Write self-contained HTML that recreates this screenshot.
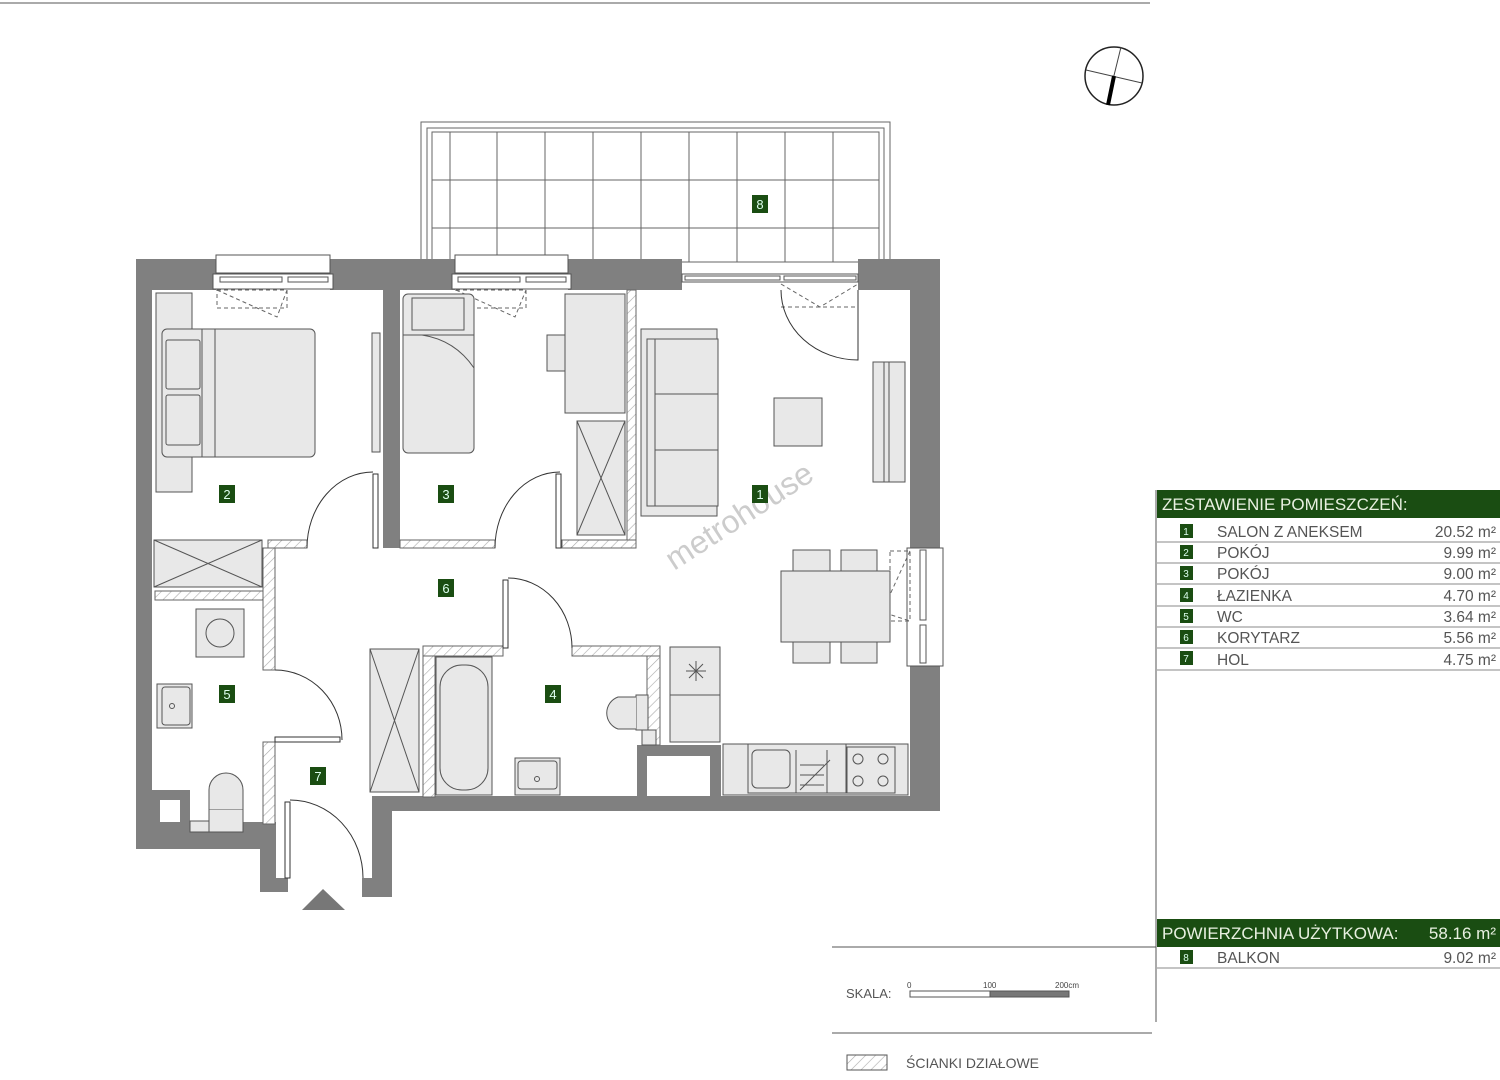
<!DOCTYPE html>
<html><head><meta charset="utf-8"><style>
body{margin:0;background:#fff;width:1500px;height:1080px;overflow:hidden;font-family:"Liberation Sans",sans-serif}
svg{position:absolute;left:0;top:0}
</style></head><body>
<svg width="1500" height="1080" viewBox="0 0 1500 1080" xmlns="http://www.w3.org/2000/svg" font-family="Liberation Sans, sans-serif">
<defs>
<pattern id="h" width="7" height="7" patternUnits="userSpaceOnUse" patternTransform="rotate(45)">
<rect width="7" height="7" fill="#fff"/><line x1="0" y1="0" x2="0" y2="7" stroke="#aaa" stroke-width="1.2"/></pattern>
</defs>
<line x1="0" y1="3" x2="1150" y2="3" stroke="#555" stroke-width="1"/>
<circle cx="1114" cy="76" r="29" fill="none" stroke="#222" stroke-width="1.5"/>
<line x1="1086" y1="70" x2="1142" y2="83" stroke="#444"/>
<line x1="1121" y1="47" x2="1107" y2="104" stroke="#444"/>
<line x1="1114" y1="76" x2="1108" y2="105" stroke="#000" stroke-width="4"/>
<g fill="none" stroke="#666" stroke-width="1">
<rect x="421" y="122" width="469" height="140"/>
<rect x="427" y="128" width="457" height="134"/>
<rect x="432" y="132" width="447" height="130"/>
<path d="M450 132V262M497 132V262M545 132V262M593 132V262M641 132V262M689 132V262M737 132V262M785 132V262M833 132V262M432 180H879M432 228H879"/>
</g>
<g fill="#808080">
<rect x="136" y="259" width="80" height="31"/>
<rect x="330" y="259" width="125" height="31"/>
<rect x="568" y="259" width="114" height="31"/>
<rect x="858" y="259" width="82" height="31"/>
<rect x="136" y="259" width="16" height="590"/>
<rect x="383" y="290" width="17" height="258"/>
<rect x="910" y="259" width="30" height="290"/>
<rect x="910" y="665" width="30" height="146"/>
<rect x="372" y="796" width="568" height="15"/>
<rect x="372" y="796" width="20" height="101"/>
<rect x="362" y="878" width="30" height="19"/>
<rect x="136" y="822" width="140" height="27"/>
<rect x="152" y="790" width="38" height="32"/>
<rect x="260" y="822" width="16" height="70"/>
<rect x="260" y="878" width="28" height="14"/>
<rect x="637" y="745" width="84" height="52"/>
</g>
<rect x="160" y="800" width="20" height="22" fill="#fff"/>
<rect x="647" y="756" width="63" height="40" fill="#fff"/>
<g fill="#fff" stroke="#555" stroke-width="1">
<rect x="216" y="255" width="114" height="18"/>
<rect x="213" y="274" width="120" height="15"/>
<rect x="220" y="277" width="62" height="5"/><rect x="288" y="277" width="40" height="5"/>
<rect x="455" y="255" width="113" height="18"/>
<rect x="452" y="274" width="119" height="15"/>
<rect x="458" y="277" width="62" height="5"/><rect x="526" y="277" width="40" height="5"/>
<rect x="682" y="274" width="176" height="8"/>
<rect x="685" y="276" width="95" height="4"/><rect x="784" y="276" width="72" height="4"/>
<rect x="907" y="548" width="36" height="118"/>
<rect x="920" y="550" width="6" height="70"/><rect x="920" y="625" width="6" height="38"/>
</g>
<g fill="none" stroke="#666" stroke-dasharray="4 3">
<rect x="217" y="290" width="70" height="18"/><path d="M217 290L277 317L287 290"/>
<rect x="456" y="290" width="70" height="18"/><path d="M456 290L515 317L526 290"/>
<path d="M781 284L820 307L858 284M781 307H858"/>
<rect x="890" y="551" width="20" height="70"/><path d="M910 551L882 612L910 621"/>
</g>
<g fill="url(#h)" stroke="#666" stroke-width="1">
<rect x="627" y="290" width="9" height="258"/>
<rect x="400" y="540" width="95" height="8"/>
<rect x="562" y="540" width="74" height="8"/>
<rect x="268" y="540" width="39" height="8"/>
<rect x="155" y="591" width="120" height="9"/>
<rect x="263" y="548" width="12" height="122"/>
<rect x="263" y="742" width="12" height="82"/>
<rect x="423" y="646" width="80" height="10"/>
<rect x="572" y="646" width="88" height="10"/>
<rect x="423" y="656" width="12" height="141"/>
<rect x="647" y="656" width="13" height="89"/>
</g>
<g fill="none" stroke="#333" stroke-width="1">
<path d="M307 548A66 76 0 0 1 373 472"/><rect x="373" y="474" width="5" height="74" fill="#fff"/>
<path d="M495 548A65 76 0 0 1 560 472"/><rect x="556" y="474" width="5" height="74" fill="#fff"/>
<path d="M275 670A67 70 0 0 1 342 740"/><rect x="275" y="737" width="65" height="5" fill="#fff"/>
<path d="M290 800A73 78 0 0 1 363 878"/><rect x="285" y="802" width="5" height="76" fill="#fff"/>
<path d="M508 578A64 70 0 0 1 572 648"/><rect x="503" y="580" width="5" height="68" fill="#fff"/>
<path d="M781 290A77 70 0 0 0 858 360V290"/>
</g>
<polygon points="302,910 345,910 323,889" fill="#777"/>
<g fill="#e8e8e8" stroke="#555" stroke-width="1">
<rect x="156" y="293" width="36" height="199"/>
<rect x="162" y="329" width="153" height="128" rx="5"/>
<rect x="166" y="340" width="34" height="49" rx="2"/><rect x="166" y="395" width="34" height="50" rx="2"/>
<path d="M202 329V457M215 329V457" fill="none"/>
<rect x="372" y="333" width="8" height="119"/>
<rect x="154" y="540" width="108" height="47"/><path d="M154 540L262 587M262 540L154 587" fill="none"/>
<rect x="403" y="294" width="71" height="159" rx="5"/>
<rect x="412" y="298" width="52" height="32"/><path d="M403 335H474M422 335Q455 340 474 368" fill="none"/>
<rect x="565" y="294" width="60" height="119"/><rect x="547" y="335" width="18" height="36"/>
<rect x="577" y="421" width="48" height="114"/><path d="M577 421L625 535M625 421L577 535" fill="none"/>
<rect x="641" y="329" width="76" height="187"/><rect x="647" y="339" width="71" height="167"/>
<path d="M655 339V506M655 394H718M655 450H718" fill="none"/>
<rect x="774" y="398" width="48" height="48"/>
<rect x="873" y="362" width="32" height="120"/><path d="M884 362V482M889 362V482" fill="none"/>
<rect x="793" y="550" width="37" height="21"/><rect x="841" y="550" width="36" height="21"/>
<rect x="793" y="642" width="37" height="21"/><rect x="841" y="642" width="36" height="21"/>
<rect x="781" y="571" width="109" height="71"/>
<rect x="670" y="647" width="50" height="95"/><path d="M670 695H720M686 671h20M696 661v20M689 664l14 14M703 664l-14 14" fill="none"/>
<rect x="723" y="744" width="185" height="51"/>
<rect x="748" y="744" width="98" height="49"/><rect x="752" y="750" width="38" height="38" rx="5"/>
<path d="M796 750V793M827 750V793M846 750V793M800 765h24M800 775h24M800 785h24M800 790L830 760" fill="none"/>
<rect x="847" y="747" width="48" height="46"/>
<circle cx="858" cy="759" r="5"/><circle cx="883" cy="759" r="5"/><circle cx="858" cy="781" r="5"/><circle cx="883" cy="781" r="5"/>
<rect x="196" y="609" width="48" height="48"/><circle cx="220" cy="633" r="14"/>
<rect x="157" y="684" width="35" height="44"/><rect x="162" y="687" width="28" height="38" rx="3"/><circle cx="172" cy="706" r="2.5"/>
<rect x="209" y="809" width="34" height="23"/><path d="M209 809V790A17 17 0 0 1 243 790V809"/>
<rect x="190" y="821" width="19" height="11"/>
<rect x="370" y="649" width="49" height="143"/><path d="M370 649L419 792M419 649L370 792" fill="none"/>
<rect x="436" y="657" width="56" height="138"/><rect x="440" y="665" width="48" height="125" rx="22"/>
<rect x="515" y="758" width="45" height="37"/><rect x="518" y="761" width="39" height="28" rx="3"/><circle cx="537" cy="779" r="2.5"/>
<rect x="636" y="695" width="12" height="35"/><path d="M636 697H618A17 17 0 0 0 618 729H636"/>
<rect x="642" y="730" width="14" height="15"/>
</g>
<text x="745" y="525" font-size="32" fill="#ccc" transform="rotate(-33 745 525)" text-anchor="middle">metrohouse</text>
<g font-size="13" fill="#dfe">
<rect x="752" y="195" width="16" height="18" fill="#1a4d12"/><text x="760" y="209" text-anchor="middle">8</text>
<rect x="752" y="485" width="16" height="18" fill="#1a4d12"/><text x="760" y="499" text-anchor="middle">1</text>
<rect x="219" y="485" width="16" height="18" fill="#1a4d12"/><text x="227" y="499" text-anchor="middle">2</text>
<rect x="438" y="485" width="16" height="18" fill="#1a4d12"/><text x="446" y="499" text-anchor="middle">3</text>
<rect x="545" y="685" width="16" height="18" fill="#1a4d12"/><text x="553" y="699" text-anchor="middle">4</text>
<rect x="219" y="685" width="16" height="18" fill="#1a4d12"/><text x="227" y="699" text-anchor="middle">5</text>
<rect x="438" y="579" width="16" height="18" fill="#1a4d12"/><text x="446" y="593" text-anchor="middle">6</text>
<rect x="310" y="767" width="16" height="18" fill="#1a4d12"/><text x="318" y="781" text-anchor="middle">7</text>
</g>
<line x1="1156" y1="490" x2="1156" y2="1022" stroke="#555"/>
<rect x="1157" y="490" width="343" height="28" fill="#1a4d12"/>
<text x="1162" y="510" font-size="17" fill="#e8f0e0">ZESTAWIENIE POMIESZCZEŃ:</text>
<g stroke="#888"><path d="M1157 542H1500M1157 563H1500M1157 584H1500M1157 606H1500M1157 627H1500M1157 648H1500M1157 670H1500M1157 968H1500"/></g>
<g font-size="15.5" fill="#555">
<text x="1217" y="537">SALON Z ANEKSEM</text><text x="1496" y="537" text-anchor="end">20.52 m²</text>
<text x="1217" y="558">POKÓJ</text><text x="1496" y="558" text-anchor="end">9.99 m²</text>
<text x="1217" y="579">POKÓJ</text><text x="1496" y="579" text-anchor="end">9.00 m²</text>
<text x="1217" y="601">ŁAZIENKA</text><text x="1496" y="601" text-anchor="end">4.70 m²</text>
<text x="1217" y="622">WC</text><text x="1496" y="622" text-anchor="end">3.64 m²</text>
<text x="1217" y="643">KORYTARZ</text><text x="1496" y="643" text-anchor="end">5.56 m²</text>
<text x="1217" y="665">HOL</text><text x="1496" y="665" text-anchor="end">4.75 m²</text>
<text x="1217" y="963">BALKON</text><text x="1496" y="963" text-anchor="end">9.02 m²</text>
</g>
<g font-size="10" fill="#dfe">
<rect x="1180" y="524" width="13" height="14" fill="#1a4d12"/><text x="1186" y="535" text-anchor="middle">1</text>
<rect x="1180" y="545" width="13" height="14" fill="#1a4d12"/><text x="1186" y="556" text-anchor="middle">2</text>
<rect x="1180" y="566" width="13" height="14" fill="#1a4d12"/><text x="1186" y="577" text-anchor="middle">3</text>
<rect x="1180" y="588" width="13" height="14" fill="#1a4d12"/><text x="1186" y="599" text-anchor="middle">4</text>
<rect x="1180" y="609" width="13" height="14" fill="#1a4d12"/><text x="1186" y="620" text-anchor="middle">5</text>
<rect x="1180" y="630" width="13" height="14" fill="#1a4d12"/><text x="1186" y="641" text-anchor="middle">6</text>
<rect x="1180" y="651" width="13" height="14" fill="#1a4d12"/><text x="1186" y="662" text-anchor="middle">7</text>
<rect x="1180" y="950" width="13" height="14" fill="#1a4d12"/><text x="1186" y="961" text-anchor="middle">8</text>
</g>
<rect x="1157" y="919" width="343" height="28" fill="#1a4d12"/>
<text x="1162" y="939" font-size="17" fill="#e8f0e0">POWIERZCHNIA UŻYTKOWA:</text>
<text x="1496" y="939" font-size="17" fill="#e8f0e0" text-anchor="end">58.16 m²</text>
<line x1="832" y1="947" x2="1156" y2="947" stroke="#555"/>
<line x1="832" y1="1033" x2="1152" y2="1033" stroke="#555"/>
<text x="846" y="998" font-size="13" fill="#555">SKALA:</text>
<g font-size="8" fill="#444"><text x="907" y="988">0</text><text x="983" y="988">100</text><text x="1055" y="988">200cm</text></g>
<rect x="910" y="991" width="80" height="6" fill="#fff" stroke="#555"/>
<rect x="990" y="991" width="79" height="6" fill="#777" stroke="#555"/>
<rect x="847" y="1055" width="40" height="15" fill="url(#h)" stroke="#555"/>
<text x="906" y="1068" font-size="14" fill="#555">ŚCIANKI DZIAŁOWE</text>
</svg>
</body></html>
